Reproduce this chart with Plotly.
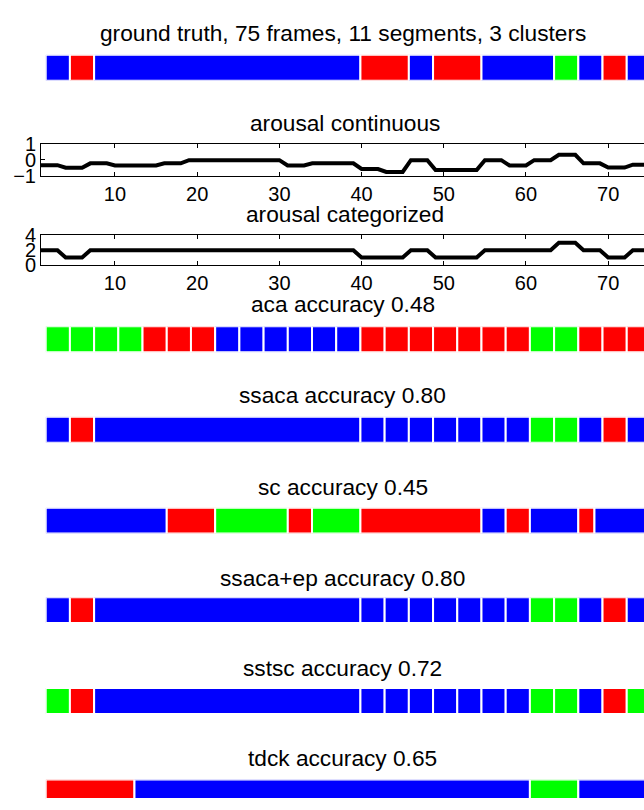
import plotly.graph_objects as go

W, H = 644, 810
FONT = "Liberation Sans"

# ---------------- data ----------------
frames = list(range(1, 76))

arousal_cont = [-0.33, -0.33, -0.33, -0.49, -0.49, -0.49, -0.22, -0.22, -0.22,
                -0.35, -0.35, -0.35, -0.35, -0.35, -0.35, -0.22, -0.22, -0.22,
                -0.02, -0.02, -0.02, -0.02, -0.02, -0.02, -0.02, -0.02, -0.02,
                -0.02, -0.02, -0.02, -0.35, -0.35, -0.35, -0.22, -0.22, -0.22,
                -0.22, -0.22, -0.22, -0.57, -0.57, -0.57, -0.75, -0.75, -0.75,
                -0.02, -0.02, -0.02, -0.63, -0.63, -0.63, -0.63, -0.63, -0.63,
                -0.02, -0.02, -0.02, -0.35, -0.35, -0.35, -0.02, -0.02, -0.02,
                0.31, 0.31, 0.31, -0.22, -0.22, -0.22, -0.48, -0.48, -0.48,
                -0.30, -0.30, -0.30]

arousal_cat = [2, 2, 2, 1, 1, 1, 2, 2, 2, 2, 2, 2, 2, 2, 2, 2, 2, 2, 2, 2, 2,
               2, 2, 2, 2, 2, 2, 2, 2, 2, 2, 2, 2, 2, 2, 2, 2, 2, 2, 1, 1, 1,
               1, 1, 1, 2, 2, 2, 1, 1, 1, 1, 1, 1, 2, 2, 2, 2, 2, 2, 2, 2, 2,
               3, 3, 3, 2, 2, 2, 1, 1, 1, 2, 2, 2]

x_ticks = [10, 20, 30, 40, 50, 60, 70]
cont_ticks = [-1, 0, 1]
cont_tick_text = ["\u22121", "0", "1"]
cat_ticks = [0, 2, 4]

# segmentations: segment end frames and cluster labels
gt_ends = [3, 6, 39, 45, 48, 54, 63, 66, 69, 72, 75]
gt_labels = ["b", "r", "b", "r", "b", "r", "b", "g", "b", "r", "b"]

aca_ends = [3, 6, 9, 12, 15, 18, 21, 24, 27, 30, 33, 36, 39, 42, 45, 48, 51,
            54, 57, 60, 63, 66, 69, 72, 75]
aca_labels = ["g", "g", "g", "g", "r", "r", "r", "b", "b", "b", "b", "b", "b",
              "r", "r", "r", "r", "r", "r", "r", "g", "g", "r", "r", "r"]

ssaca_ends = [3, 6, 39, 42, 45, 48, 51, 54, 57, 60, 63, 66, 69, 72, 75]
ssaca_labels = ["b", "r", "b", "b", "b", "b", "b", "b", "b", "b", "g", "g",
                "b", "r", "b"]

sc_ends = [15, 21, 30, 33, 39, 54, 57, 60, 66, 68, 75]
sc_labels = ["b", "r", "g", "r", "g", "r", "b", "r", "b", "r", "b"]

ssacaep_ends = [3, 6, 39, 42, 45, 48, 51, 54, 57, 60, 63, 66, 69, 72, 75]
ssacaep_labels = ["b", "r", "b", "b", "b", "b", "b", "b", "b", "b", "g", "g",
                  "b", "r", "b"]

sstsc_ends = [3, 6, 39, 42, 45, 48, 51, 54, 57, 60, 63, 66, 69, 72, 75]
sstsc_labels = ["g", "r", "b", "b", "b", "b", "b", "b", "b", "b", "g", "g",
                "b", "r", "g"]

tdck_ends = [11, 60, 66, 75]
tdck_labels = ["r", "b", "g", "b"]

cluster_colors = {"b": "#0000FF", "r": "#FF0000", "g": "#00FF00"}

bar_rows = [
    ("ground truth, 75 frames, 11 segments, 3 clusters", gt_ends, gt_labels),
    ("aca accuracy 0.48", aca_ends, aca_labels),
    ("ssaca accuracy 0.80", ssaca_ends, ssaca_labels),
    ("sc accuracy 0.45", sc_ends, sc_labels),
    ("ssaca+ep accuracy 0.80", ssacaep_ends, ssacaep_labels),
    ("sstsc accuracy 0.72", sstsc_ends, sstsc_labels),
    ("tdck accuracy 0.65", tdck_ends, tdck_labels),
]

# ---------------- layout geometry (pixels) ----------------
bar_tops = [46, 325, 418, 511.5, 603.5, 697, 791]
bar_h = 24.7
bar_title_y = [22.6, 301.4, 394.7, 489.7, 583, 675.3, 768]
bar_x0_px, bar_px_per_frame = 45.7, 8.07
bar_title_x = 342.5

line_x0_px, line_px_per_frame = 41.0, 8.22
line_boxes = [(136.5, 169.5), (230.7, 261.0)]
line_title_y = [115.5, 208.6]
line_title_x = 345

TITLE_SIZE = 22.7
TICK_SIZE = 20

def fx(px):
    return px / W

def fy(py):
    return 1 - py / H

fig = go.Figure()
layout = dict(width=W, height=H, margin=dict(l=0, r=0, t=0, b=0),
              paper_bgcolor="white", plot_bgcolor="white",
              showlegend=False, barmode="overlay",
              font=dict(family=FONT, size=TICK_SIZE, color="black"))
annotations = []

ax_i = 0

def axname(i):
    return "" if i == 1 else str(i)

# bar rows
for k, (title, ends, labels) in enumerate(bar_rows):
    ax_i += 1
    n = axname(ax_i)
    starts = [0] + ends[:-1]
    lengths = [e - s for s, e in zip(starts, ends)]
    fig.add_trace(go.Bar(
        x=lengths, base=starts, y=[0] * len(ends), orientation="h", width=1,
        marker=dict(color=[cluster_colors[c] for c in labels],
                    line=dict(color="white", width=2)),
        xaxis="x" + n, yaxis="y" + n, hoverinfo="skip"))
    top = bar_tops[k] - 1
    bot = bar_tops[k] + bar_h + 1
    layout["xaxis" + n] = dict(
        domain=[fx(bar_x0_px), 1],
        range=[0, (W - bar_x0_px) / bar_px_per_frame],
        visible=False, anchor="y" + n)
    layout["yaxis" + n] = dict(
        domain=[max(0, fy(bot)), fy(top)], range=[-0.5, 0.5],
        visible=False, anchor="x" + n)
    annotations.append(dict(
        text=title, x=fx(bar_title_x), y=fy(bar_title_y[k]), xref="paper",
        yref="paper", xanchor="center", yanchor="middle", showarrow=False,
        font=dict(family=FONT, size=TITLE_SIZE, color="black")))

# line rows
line_rows = [("arousal continuous", arousal_cont, [-1, 1], cont_ticks, cont_tick_text),
             ("arousal categorized", arousal_cat, [0, 4], cat_ticks,
              [str(v) for v in cat_ticks])]
for k, (title, vals, yr, yt, ytt) in enumerate(line_rows):
    ax_i += 1
    n = axname(ax_i)
    fig.add_trace(go.Scatter(
        x=frames, y=vals, mode="lines", line=dict(color="black", width=4),
        xaxis="x" + n, yaxis="y" + n, hoverinfo="skip"))
    top, bot = line_boxes[k]
    layout["xaxis" + n] = dict(
        domain=[fx(line_x0_px), 1],
        range=[1, 1 + (W - line_x0_px) / line_px_per_frame],
        anchor="y" + n, showline=True, linecolor="black", linewidth=1,
        mirror="ticks", ticks="inside", ticklen=4, tickcolor="black",
        tickvals=x_ticks, showgrid=False, zeroline=False,
        tickfont=dict(family=FONT, size=TICK_SIZE, color="black"))
    layout["yaxis" + n] = dict(
        domain=[fy(bot), fy(top)], range=yr, anchor="x" + n,
        showline=True, linecolor="black", linewidth=1, ticks="inside",
        ticklen=4, tickcolor="black", tickvals=yt, ticktext=ytt,
        showgrid=False, zeroline=False,
        tickfont=dict(family=FONT, size=TICK_SIZE, color="black"))
    annotations.append(dict(
        text=title, x=fx(line_title_x), y=fy(line_title_y[k]), xref="paper",
        yref="paper", xanchor="center", yanchor="middle", showarrow=False,
        font=dict(family=FONT, size=TITLE_SIZE, color="black")))

layout["annotations"] = annotations
fig.update_layout(**layout)
fig.write_html(
    "out.html",
    config={"displayModeBar": False, "staticPlot": True},
    post_script="document.body.style.margin='0';"
                "document.body.style.overflow='hidden';")
